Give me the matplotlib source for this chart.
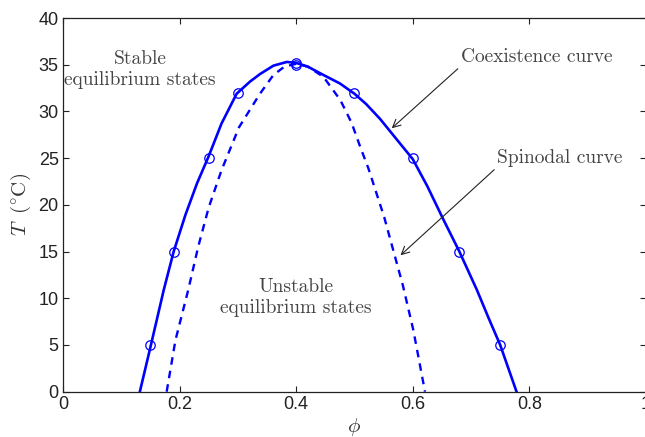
import matplotlib
matplotlib.use('Agg')
import matplotlib.pyplot as plt

plt.rcParams['mathtext.fontset'] = 'cm'

# coexistence curve (solid)
coex_phi = [0.132, 0.151, 0.173, 0.19, 0.21, 0.23, 0.25, 0.272, 0.298, 0.321, 0.338, 0.361,
            0.384, 0.40, 0.42, 0.447, 0.475, 0.50, 0.52, 0.544, 0.57, 0.60, 0.625, 0.652,
            0.68, 0.71, 0.73, 0.75, 0.778]
coex_T = [0.0, 5.0, 10.9, 15.0, 18.9, 22.3, 25.2, 28.7, 31.9, 33.2, 34.0, 34.9,
          35.3, 35.2, 34.8, 33.9, 33.0, 31.9, 30.8, 29.2, 27.2, 24.9, 22.0, 18.5,
          15.0, 10.9, 7.9, 5.0, 0.0]

# spinodal curve (dashed)
spin_phi = [0.178, 0.193, 0.215, 0.232, 0.25, 0.272, 0.302, 0.338, 0.361, 0.38, 0.40,
            0.42, 0.447, 0.476, 0.495, 0.51, 0.524, 0.551, 0.583, 0.601, 0.621]
spin_T = [0.0, 5.5, 10.9, 15.5, 19.7, 23.7, 28.3, 31.9, 33.9, 34.8, 35.1,
          34.8, 33.7, 31.2, 28.8, 26.2, 23.9, 18.7, 11.4, 6.6, 0.0]

# measured points
meas_phi = [0.15, 0.19, 0.25, 0.30, 0.40, 0.40, 0.50, 0.60, 0.68, 0.75]
meas_T = [5, 15, 25, 32, 35.2, 35.0, 32, 25, 15, 5]

xticks = [0, 0.2, 0.4, 0.6, 0.8, 1.0]
xticklabels = ['0', '0.2', '0.4', '0.6', '0.8', '1']
yticks = list(range(0, 41, 5))

fig = plt.figure(figsize=(6.45, 4.37), dpi=100)
ax = fig.add_axes([0.0975, 0.1037, 0.904, 0.855])

ax.plot(coex_phi, coex_T, '-', color='#0000ff', lw=1.9)
ax.plot(spin_phi, spin_T, '--', color='#0000ff', lw=1.7, dashes=(3.2, 2.6))
ax.plot(meas_phi, meas_T, 'o', mfc='none', mec='#0000ff', ms=6.8, mew=0.9)

ax.set_xlim(0, 1)
ax.set_ylim(0, 40)
ax.set_xticks(xticks)
ax.set_xticklabels(xticklabels)
ax.set_yticks(yticks)
ax.tick_params(direction='in', top=True, right=True, length=4, width=0.8,
               labelsize=13, colors='#222222', pad=3)
for lab in ax.get_xticklabels() + ax.get_yticklabels():
    lab.set_family('Liberation Sans')
for sp in ax.spines.values():
    sp.set_color('#222222')
    sp.set_linewidth(0.9)

ax.set_xlabel(r'$\phi$', fontsize=15, color='#333333', labelpad=2)
ax.set_ylabel(r'$T\;\;(^{\circ}\mathrm{C})$', fontsize=15, color='#333333', labelpad=4)

tcol = '#444444'
ax.text(0.132, 34.5, 'Stable\nequilibrium states', ha='center', va='center',
        fontsize=14, family='cmr10', color=tcol, linespacing=1.2)
ax.text(0.40, 10.1, 'Unstable\nequilibrium states', ha='center', va='center',
        fontsize=14, family='cmr10', color=tcol, linespacing=1.2)

ax.annotate('Coexistence curve', xy=(0.564, 28.2), xytext=(0.812, 35.8),
            ha='center', va='center', fontsize=14, family='cmr10', color=tcol,
            arrowprops=dict(arrowstyle='->', color='#222222', lw=0.8,
                            shrinkA=0, shrinkB=0, relpos=(0.0, 0.0),
                            mutation_scale=14))
ax.annotate('Spinodal curve', xy=(0.579, 14.6), xytext=(0.852, 25.0),
            ha='center', va='center', fontsize=14, family='cmr10', color=tcol,
            arrowprops=dict(arrowstyle='->', color='#222222', lw=0.8,
                            shrinkA=0, shrinkB=0, relpos=(0.0, 0.0),
                            mutation_scale=14))

fig.savefig('out.png', dpi=100)
